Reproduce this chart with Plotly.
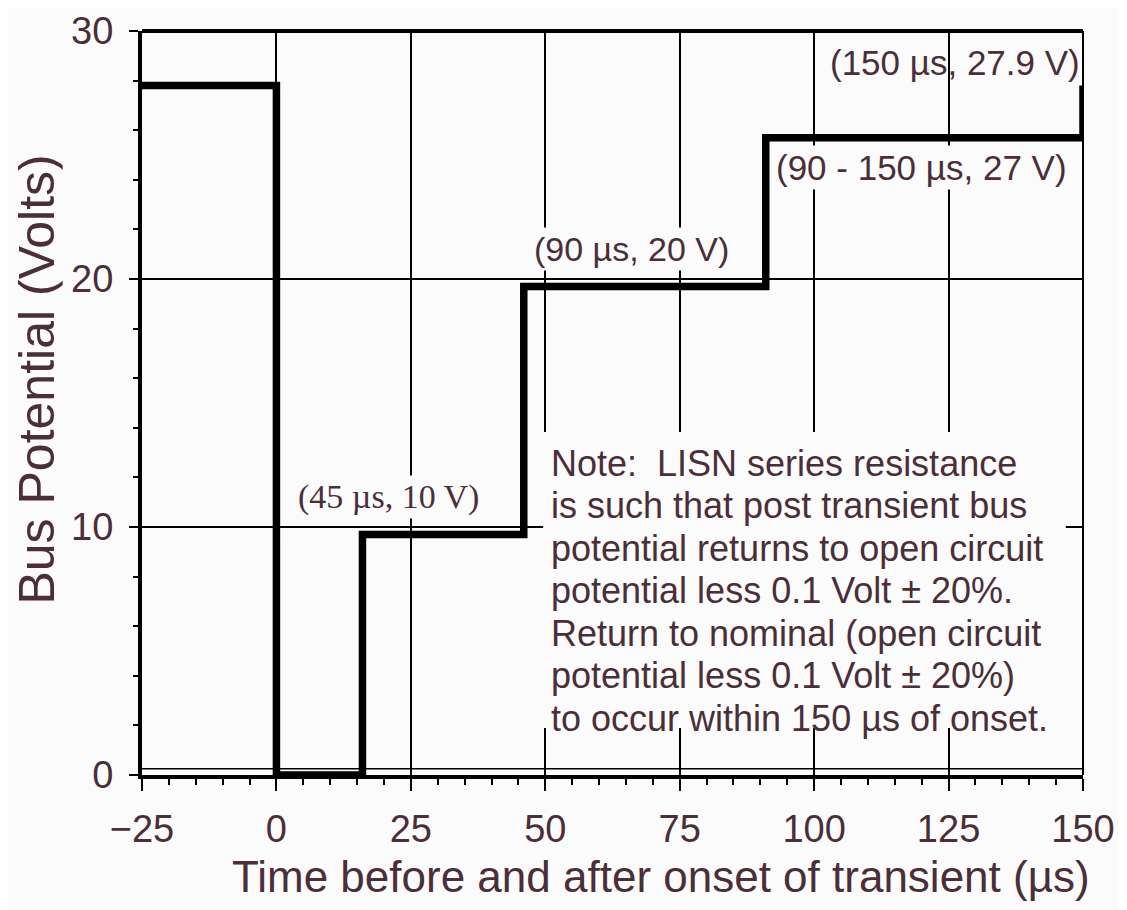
import plotly.graph_objects as go

# ---- data ----
time_us = [-25, 0, 0, 16, 16, 46, 46, 91, 91, 150, 150]
bus_volts = [27.8, 27.8, 0, 0, 9.7, 9.7, 19.7, 19.7, 25.7, 25.7, 27.8]

x_ticks = [-25, 0, 25, 50, 75, 100, 125, 150]
y_ticks = [0, 10, 20, 30]

point_labels = ["(45 µs, 10 V)", "(90 µs, 20 V)", "(90 - 150 µs, 27 V)", "(150 µs, 27.9 V)"]
label_x = [20.9, 66.1, 92.3, 150]
label_y = [11.2, 21.2, 24.5, 28.75]

note_lines = [
    "Note:  LISN series resistance",
    "is such that post transient bus",
    "potential returns to open circuit",
    "potential less 0.1 Volt ± 20%.",
    "Return to nominal (open circuit",
    "potential less 0.1 Volt ± 20%)",
    "to occur within 150 µs of onset.",
]

x_title = "Time before and after onset of transient (µs)"
y_title = "Bus Potential (Volts)"

TXT = "#4a2e38"
BG = "#fbfbfb"
SANS = "Liberation Sans, Arial, sans-serif"
SERIF = "Liberation Serif, Times New Roman, serif"

W, H = 1119, 902  # page adds an 8px body margin

fig = go.Figure()
fig.add_trace(go.Scatter(
    x=time_us, y=bus_volts, mode="lines",
    line=dict(color="black", width=7.5), showlegend=False, hoverinfo="skip",
))

fig.update_layout(
    width=W, height=H,
    margin=dict(l=134, r=44, t=23, b=135),
    paper_bgcolor=BG, plot_bgcolor=BG,
    showlegend=False,
    font=dict(family=SANS, color=TXT),
)

fig.update_xaxes(
    range=[-25, 150], tickvals=x_ticks, automargin=False,
    showgrid=True, gridcolor="black", gridwidth=1.6,
    showline=True, linecolor="black", linewidth=4,
    ticks="outside", ticklen=12, tickwidth=2, tickcolor="black",
    minor=dict(dtick=5, ticks="outside", ticklen=6, tickwidth=2, tickcolor="black", showgrid=False),
    tickfont=dict(size=38, family=SANS, color=TXT), ticklabelstandoff=5,
    zeroline=False,
)
fig.update_yaxes(
    range=[0, 30], tickvals=y_ticks, automargin=False,
    showgrid=True, gridcolor="black", gridwidth=1.6,
    showline=True, linecolor="black", linewidth=4,
    ticks="outside", ticklen=9, tickwidth=2, tickcolor="black",
    minor=dict(dtick=2, ticks="outside", ticklen=5, tickwidth=2, tickcolor="black", showgrid=False),
    tickfont=dict(size=38, family=SANS, color=TXT), ticklabelstandoff=8,
    zeroline=False,
)

# axis titles (placed as annotations to match the offset positions)
fig.add_annotation(xref="paper", yref="paper", x=0.5516, y=-0.137, text=x_title,
                   showarrow=False, xanchor="center", yanchor="middle",
                   font=dict(size=44, family=SANS, color=TXT))
fig.add_annotation(xref="paper", yref="paper", x=-0.112, y=0.531, text=y_title,
                   showarrow=False, xanchor="center", yanchor="middle", textangle=-90,
                   height=52, borderpad=0,
                   font=dict(size=50, family=SANS, color=TXT))

# frame: thick top border, thin right border, thin inner line near the bottom
fig.add_shape(type="line", xref="paper", yref="paper", x0=0, x1=1, y0=1, y1=1,
              line=dict(color="black", width=4))
fig.add_shape(type="line", xref="paper", yref="paper", x0=1, x1=1, y0=0, y1=1,
              line=dict(color="black", width=2))
fig.add_shape(type="line", xref="paper", yref="y", x0=0, x1=1, y0=0.25, y1=0.25,
              line=dict(color="black", width=1.5), layer="between")

# blank panel behind the note (hides the grid there)
fig.add_shape(type="rect", xref="x", yref="y", x0=49.6, x1=146.8, y0=1.9, y1=13.83,
              fillcolor=BG, line=dict(width=0), layer="between")

# point labels
anchors = ["center", "center", "left", "right"]
backgrounds = [BG, BG, BG, "rgba(0,0,0,0)"]
families = [SERIF, SANS, SANS, SANS]
sizes = [34, 34, 35, 35]
for txt, lx, ly, xa, bg, fam, sz in zip(point_labels, label_x, label_y, anchors,
                                        backgrounds, families, sizes):
    fig.add_annotation(
        x=lx, y=ly, text=txt, showarrow=False, xanchor=xa, yanchor="middle",
        font=dict(size=sz, family=fam, color=TXT), bgcolor=bg, borderpad=2,
    )

# note text, one line per annotation
note_top = 12.58
note_pitch = 1.715
for i, line in enumerate(note_lines):
    fig.add_annotation(
        x=50.6, y=note_top - i * note_pitch, xanchor="left", yanchor="middle",
        text=line, align="left", showarrow=False,
        font=dict(size=36, family=SANS, color=TXT),
    )

fig.write_html("out.html")
